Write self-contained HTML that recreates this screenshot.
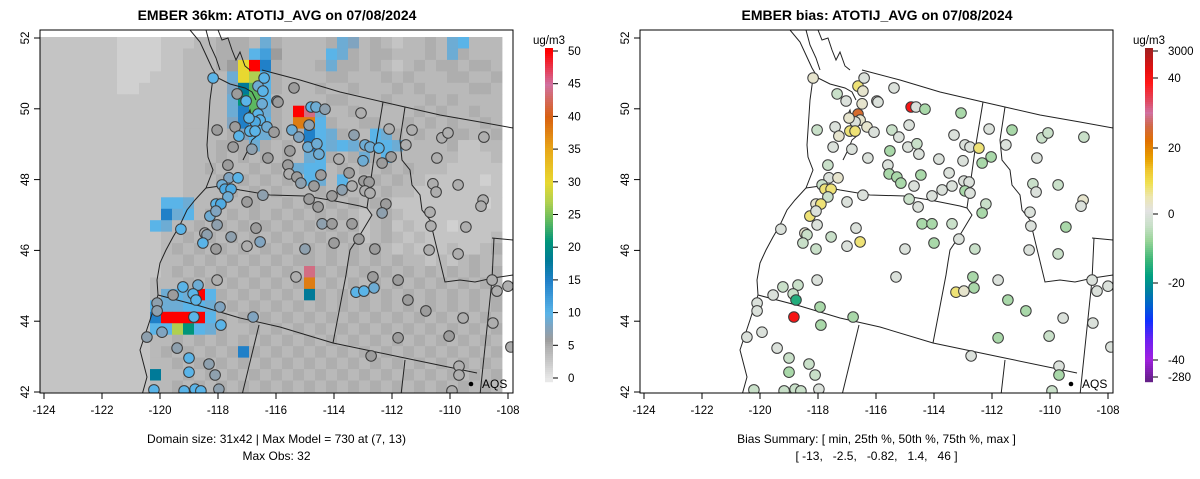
<!DOCTYPE html>
<html><head><meta charset="utf-8"><style>
html,body{margin:0;padding:0;background:#fff}
svg{display:block;font-family:"Liberation Sans",sans-serif}
</style></head><body>
<svg id="chart" width="1200" height="479" xmlns="http://www.w3.org/2000/svg">
<defs>
<clipPath id="clipL"><rect x="40" y="30" width="473" height="363"/></clipPath>
<clipPath id="clipR"><rect x="640" y="30" width="473" height="363"/></clipPath>
</defs>
<g id="left"></g>
<g id="right"></g>
</svg>
<script>
// ---------- data ----------
const lonTicks = [-124,-122,-120,-118,-116,-114,-112,-110,-108];
const latTicks = [42,44,46,48,50,52];
const modelTicks = [0,5,10,15,20,25,30,35,40,45,50];
const biasTickLabels = [3000,40,20,0,-20,-40,-280];
// model grid rows (31 rows x 42 cols). digits = ug/m3, letters = higher values
const gridRows = [
"33333332222333445554954444598454344549A444",
"3333333222233444555AB64444A954554445495444",
"333333322223344456HLC544459554543454554554",
"333333322233344449HGA544445544454544455445",
"333333322333344448DFA544454454445454444554",
"333333333333344449EFA444445544454445454444",
"333333333333344449CF954LK94454444454544544",
"333333333333344448C9A54JJA5445544545454454",
"3333333333333444458A9545CA9544A95454455445",
"333333333333344455595454CA9A95AA9444453344",
"3333333333333444545454549A54595A4444443334",
"333333333333344544454549AA4545454544433333",
"333333333333344454545454A94A44545443333323",
"333333333333344445454544454544454433333333",
"33333333333AA94454454454545454543333333323",
"33333333333C9A4545454545454543454333333333",
"3333333333A9445454545454545453453433323333",
"333333333334454545454545454543454343333334",
"333333333334545454545454545454543433343345",
"333333333334454545454545545454545443434544",
"333333333334545454545454K545454545454545454",
"333333333344454545454545J45454545454545454",
"333333333349A9LA54545454D54545454545454545",
"3333333333A99AA945454545454545454545454545",
"3333333333CLLLLA54545454545454545454545454",
"3333333333AAGEA954454545454545454545454545",
"333333333344545454545454545454545454545454",
"333333333345454545C54545454545454545454545",
"333333333344545454545454545454545454545454",
"3333333333D4454545454545454545454545454545",
"333333333344545454545454545454545454545454"];
const codeValue = {A:10,B:12,C:15,D:18,E:21,F:24,G:27,H:30,I:34,J:38,K:44,L:50};
// station locations and values
const stLon = [-118.17,-117.34,-116.62,-116.41,-116.45,-117.03,-116.48,-115.97,-116.62,-116.55,-116.72,-116.93,-117.41,-116.90,-116.72,-116.31,-116.07,-117.28,-118.03,-117.48,-116.83,-116.28,-117.66,-117.62,-117.31,-117.86,-117.76,-117.55,-117.66,-117.00,-116.45,-118.07,-117.90,-115.38,-115.93,-114.79,-114.62,-114.31,-113.07,-114.86,-115.45,-115.21,-115.52,-114.90,-114.59,-114.52,-115.59,-115.55,-115.28,-115.14,-114.45,-114.69,-113.83,-113.48,-113.72,-113.38,-114.07,-114.86,-114.55,-113.31,-112.93,-112.76,-112.45,-112.03,-112.34,-113.00,-112.97,-112.79,-112.93,-112.76,-112.21,-112.10,-111.31,-111.52,-110.28,-110.07,-108.83,-110.45,-110.59,-109.72,-110.48,-108.86,-108.93,-118.28,-118.07,-118.03,-118.45,-118.38,-117.55,-118.52,-118.07,-117.00,-116.69,-116.55,-119.28,-118.03,-119.21,-118.69,-119.55,-118.86,-118.76,-120.10,-120.10,-117.93,-116.79,-118.83,-117.90,-119.93,-120.45,-119.41,-119.00,-118.31,-119.00,-118.10,-120.21,-119.17,-118.79,-118.59,-117.97,-112.34,-114.41,-114.07,-113.38,-113.14,-114.00,-115.00,-112.59,-115.31,-112.66,-112.62,-113.24,-112.97,-111.79,-111.45,-110.83,-109.55,-111.79,-110.03,-112.72,-110.69,-110.66,-109.45,-110.72,-109.72,-108.55,-108.38,-108.00,-108.52,-107.90,-109.69,-109.69,-109.93];
const stLat = [50.87,50.42,50.64,50.87,50.50,50.22,50.14,50.22,49.85,49.68,49.63,49.74,49.49,49.37,49.37,49.49,49.34,49.23,49.40,48.92,48.86,48.61,48.41,48.05,48.05,47.85,47.73,47.73,47.51,47.37,47.56,47.31,47.31,50.59,50.19,50.05,50.05,49.99,49.88,49.54,49.40,49.20,48.81,48.92,49.01,48.72,48.41,48.16,48.07,47.90,48.13,47.82,48.58,48.19,47.71,47.82,47.54,47.45,47.23,49.26,48.98,48.92,48.89,48.64,48.47,48.53,47.96,47.93,47.68,47.62,47.31,49.43,49.40,48.98,49.18,49.32,49.20,48.61,47.88,47.85,47.65,47.42,47.25,46.97,47.11,46.72,46.49,46.44,46.38,46.21,46.04,46.12,46.63,46.24,46.60,45.16,44.97,45.02,44.74,44.77,44.60,44.51,44.29,44.40,44.12,44.12,43.89,43.69,43.55,43.24,42.96,42.79,42.56,42.48,42.06,42.03,42.08,42.03,42.08,47.06,46.75,46.75,46.75,46.32,46.21,46.04,46.04,45.25,45.25,44.94,44.82,44.85,45.16,44.60,44.29,44.09,43.53,43.58,43.02,47.08,46.69,46.66,46.01,45.90,45.16,44.85,44.99,43.95,43.27,42.73,42.48,42.03];
const stObs = [10,6,9,10,10,10,9,7,10,10,11,10,6,10,10,9,6,10,6,6,7,6,6,8,10,9,11,11,9,6,7,10,11,6,6,10,9,7,5,7,9,8,6,9,9,9,6,5,6,7,6,6,5,6,7,5,6,6,6,7,9,9,10,6,6,9,6,6,5,5,6,5,5,5,5,5,5,5,5,5,5,5,5,9,8,7,5,7,7,10,6,5,6,8,10,5,10,9,6,10,10,7,7,8,8,10,10,8,7,7,10,7,10,7,10,10,10,10,7,7,7,6,6,6,6,7,6,5,6,9,10,10,6,6,6,5,6,6,6,5,5,5,5,5,5,5,5,5,5,5,5,5];
const stBias = [3,-3,8,0,3,0,3,0,25,3,0,3,0,8,8,3,0,3,-3,0,0,0,-3,0,3,-3,8,8,-3,0,0,3,8,0,0,45,0,-6,-6,0,-3,0,-6,0,-3,0,0,-6,-6,-6,-6,0,0,0,0,0,0,-3,0,0,0,0,8,-6,-6,0,0,0,-6,0,-3,0,-6,0,-3,-3,-3,0,-3,-3,0,3,0,8,0,0,3,-3,-3,-3,-3,0,0,8,0,0,-3,-3,0,-3,-15,0,0,-6,-6,100,-6,0,0,0,-3,-3,-6,-3,-3,-3,-3,-3,0,-6,-6,-6,-3,0,-6,0,-3,0,-6,-6,8,3,0,-6,-6,0,-6,-3,0,0,0,-6,0,-3,0,0,0,0,0,0,-6,-3];

// ---------- scales ----------
const xL = lon => 44 + (lon + 124) * 29;
const yL = lat => 38 + (52 - lat) * 35.4;
const NS = "http://www.w3.org/2000/svg";
function el(tag, attrs, parent){const e=document.createElementNS(NS,tag);for(const k in attrs)e.setAttribute(k,attrs[k]);parent.appendChild(e);return e;}
function hex(c){return [parseInt(c.slice(1,3),16),parseInt(c.slice(3,5),16),parseInt(c.slice(5,7),16)];}
function interp(stops, v){
  if(v<=stops[0][0])return stops[0][1];
  for(let i=1;i<stops.length;i++){if(v<=stops[i][0]){const a=stops[i-1],b=stops[i];const t=(v-a[0])/(b[0]-a[0]);const A=hex(a[1]),B=hex(b[1]);return "rgb("+A.map((x,j)=>Math.round(x+(B[j]-x)*t)).join(",")+")";}}
  return stops[stops.length-1][1];
}
const modelStops=[[0,"#e8e8e8"],[2,"#d0d0d0"],[3,"#c4c4c4"],[4,"#b9b9b9"],[5,"#aeaeae"],[6,"#9c9c9c"],[8,"#80a4c0"],[10,"#5ab4e8"],[15,"#2080c8"],[18,"#007a98"],[21,"#00957a"],[24,"#5cb860"],[27,"#b0d050"],[30,"#e8d830"],[35,"#e8a818"],[40,"#d86010"],[45,"#d070a0"],[50,"#ff0000"]];
const modelColor = v => interp(modelStops, v);
const biasPos=[[-280,377],[-40,360],[-20,283],[0,214],[20,148],[40,78],[3000,51]];
function biasY(v){if(v<=biasPos[0][0])return biasPos[0][1];for(let i=1;i<biasPos.length;i++){if(v<=biasPos[i][0]){const a=biasPos[i-1],b=biasPos[i];return a[1]+(v-a[0])/(b[0]-a[0])*(b[1]-a[1]);}}return 51;}
const biasYStops=[[48,"#a02020"],[70,"#e81010"],[82,"#ff1818"],[100,"#e04860"],[112,"#d070a0"],[125,"#d06848"],[140,"#e07000"],[158,"#e8a000"],[170,"#f0c830"],[182,"#f0e050"],[196,"#ece6b0"],[210,"#e2e2e2"],[225,"#c8e0c8"],[240,"#98d498"],[258,"#40b878"],[275,"#00a080"],[290,"#0080a0"],[305,"#0060d0"],[320,"#1030ff"],[340,"#7020f0"],[358,"#a020e0"],[382,"#602080"]];
const biasColorAtY = y => interp(biasYStops, y);
const biasColor = v => biasColorAtY(biasY(v));

// ---------- map outline geometry (right-panel pixel coords) ----------
const mapLines = [
 [[790,30],[800,42],[806,55],[812,68],[818,78],[830,84],[845,88],[852,92],[856,100]],
 [[806,30],[810,45],[816,58],[820,70]],
 [[818,30],[822,40],[828,38],[832,50],[836,60],[840,52],[845,66],[850,70]],
 [[813,78],[810,100],[808,130],[807,145],[808,157],[813,170],[806,188],[795,200],[787,210],[780,225],[773,237],[766,250],[760,263],[757,280],[758,295],[750,320],[740,350],[747,377],[742,395]],
 [[845,120],[850,110],[853,125],[858,135],[852,140],[848,150],[843,160]],
 [[862,70],[900,80],[940,92],[983,102],[1005,107],[1040,115],[1080,122],[1113,128]],
 [[806,188],[820,186],[840,190],[870,195],[905,196],[930,200],[960,206],[967,208]],
 [[983,102],[975,150],[967,208],[972,215],[960,235],[950,250],[948,262],[946,275],[933,343]],
 [[1005,107],[1000,140],[1002,160],[1010,170],[1012,185],[1020,195],[1022,210],[1030,220],[1045,282],[1060,280],[1075,282],[1093,278],[1113,275]],
 [[758,295],[800,306],[840,318],[880,327],[933,343],[1000,357],[1077,373]],
 [[859,325],[842,395]],
 [[1005,360],[1001,395]],
 [[1094,238],[1092,280],[1080,395]],
 [[1092,238],[1113,240]]
];

function drawPanel(g, off, isModel){
  const clip = el("g",{"clip-path":isModel?"url(#clipL)":"url(#clipR)"},g);
  if(isModel){
    const cells = el("g",{},clip);
    
    
    gridRows.forEach((row,r)=>{
      for(let c=0;c<42;c++){
        const ch=row[c]||'4'; const v = codeValue[ch]!==undefined?codeValue[ch]:parseInt(ch,10);
        const rc=el("rect",{x:40+c*11,y:(37+r*11.45).toFixed(2),width:11.4,height:11.85,fill:modelColor(v)},cells);
        
        
      }
    });
  }
  const lines = el("g",{fill:"none",stroke:"#222","stroke-width":1},clip);
  
  
  mapLines.forEach(pl=>{el("polyline",{points:pl.map(p=>(p[0]-600+off)+","+p[1]).join(" ")},lines);});
  const pts = el("g",{},clip);
  
  
  for(let i=0;i<stLon.length;i++){
    const fill = isModel?modelColor(stObs[i]):biasColor(stBias[i]);
    const cc=el("circle",{cx:(xL(stLon[i])+off).toFixed(1),cy:yL(stLat[i]).toFixed(1),r:5.3,fill:fill,stroke:"#3a3a3a","stroke-width":1},pts);
    
    
  }
  const bx=el("rect",{x:40+off,y:30,width:473,height:363,fill:"none",stroke:"#000","stroke-width":1},g);
  
  
  const xa = el("g",{"font-size":"11.5",fill:"#000"},g);
  
  
  lonTicks.forEach(t=>{
    const x=xL(t)+off;
    el("line",{x1:x,x2:x,y1:393,y2:399,stroke:"#000"},xa);
    const tx=el("text",{x:x,y:414,"text-anchor":"middle"},xa); tx.textContent=t;
    
    
  });
  const ya = el("g",{"font-size":"11.5",fill:"#000"},g);
  
  
  latTicks.forEach(t=>{
    const y=yL(t);
    el("line",{x1:40+off,x2:34+off,y1:y,y2:y,stroke:"#000"},ya);
    const tx=el("text",{x:0,y:0,"text-anchor":"middle",transform:`translate(${29+off},${y}) rotate(-90)`},ya); tx.textContent=t;
    
    
  });
  el("circle",{cx:471+off,cy:384,r:2.3,fill:"#000"},g);
  const aq=el("text",{x:482+off,y:388,"font-size":"12"},g); aq.textContent="AQS";
  
  
}
const L=document.getElementById("left"), R=document.getElementById("right");
drawPanel(L,0,true);
drawPanel(R,600,false);

const cbL = el("g",{},L);


for(let y=48;y<382;y+=2){const v=(378-y)/(378-51)*50; el("rect",{x:545,y:y,width:8,height:2.2,fill:modelColor(Math.max(0,v))},cbL);}
modelTicks.forEach(t=>{const y=378-t/50*(378-51); el("line",{x1:553,x2:558,y1:y,y2:y,stroke:"#000"},cbL); const tx=el("text",{x:568,y:y+4,"font-size":"11.5"},cbL); tx.textContent=t;});
const uL=el("text",{x:549,y:44,"font-size":"11.5","text-anchor":"middle"},cbL); uL.textContent="ug/m3";

const cbR = el("g",{},R);


for(let y=48;y<382;y+=2){el("rect",{x:1145,y:y,width:8,height:2.2,fill:biasColorAtY(y)},cbR);}
biasTickLabels.forEach(t=>{const y=biasY(t); el("line",{x1:1153,x2:1158,y1:y,y2:y,stroke:"#000"},cbR); const tx=el("text",{x:1168,y:y+4,"font-size":"11.5"},cbR); tx.textContent=t;});
const uR=el("text",{x:1149,y:44,"font-size":"11.5","text-anchor":"middle"},cbR); uR.textContent="ug/m3";
</script>
<div style="position:absolute;left:0;top:0;width:1200px;height:479px;pointer-events:none;font-family:'Liberation Sans',sans-serif">
<div style="position:absolute;left:0;width:554px;top:7px;text-align:center;font-weight:bold;font-size:14px">EMBER 36km: ATOTIJ_AVG on 07/08/2024</div>
<div style="position:absolute;left:600px;width:554px;top:7px;text-align:center;font-weight:bold;font-size:14px">EMBER bias: ATOTIJ_AVG on 07/08/2024</div>
<div style="position:absolute;left:40px;width:473px;top:431px;text-align:center;font-size:12px;line-height:17px">Domain size: 31x42 | Max Model = 730 at (7, 13)<br>Max Obs: 32</div>
<div style="position:absolute;left:640px;width:473px;top:431px;text-align:center;font-size:12px;line-height:17px;white-space:pre">Bias Summary: [ min, 25th %, 50th %, 75th %, max ]
[ -13,   -2.5,   -0.82,   1.4,   46 ]</div>
</div>
</body></html>
